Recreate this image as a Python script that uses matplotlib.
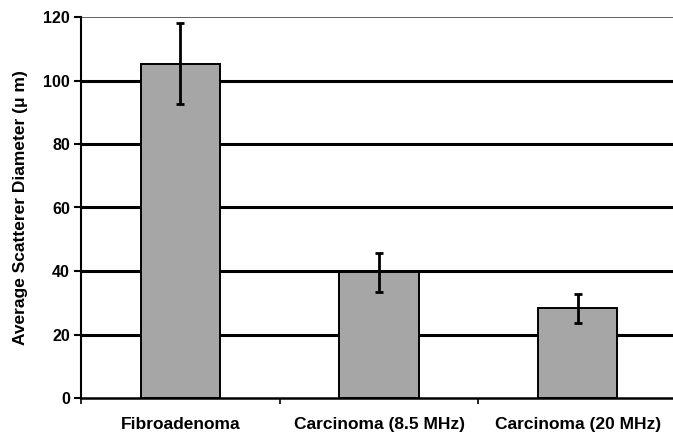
import numpy as np
import matplotlib
matplotlib.use("Agg")
from matplotlib import pyplot as plt

# valores medios e desvios
categories = ["Fibroadenoma", "Carcinoma (8.5 MHz)", "Carcinoma (20 MHz)"]
diameters = [105.3, 39.6, 28.2]
errors = [12.7, 6.2, 4.5]
yticks = [0, 20, 40, 60, 80, 100, 120]

plt.rcParams['font.family'] = ['Liberation Sans', 'DejaVu Sans']

fig = plt.figure(figsize=(6.73, 4.36), dpi=100)
ax = fig.add_axes([81/673, 38/436, 596/673, 381/436])

x = np.arange(len(categories))

# linhas de grade horizontais
for v in yticks[1:-1]:
    ax.axhline(v, color='black', lw=2.2, zorder=1)
ax.axhline(yticks[-1], color='#555555', lw=1.3, zorder=1)

ax.bar(x, diameters, width=0.40, color='#a6a6a6', edgecolor='black',
       linewidth=1.4, zorder=2)
ax.errorbar(x, diameters, yerr=errors, fmt='none', ecolor='black',
            elinewidth=2, capsize=3, capthick=2, zorder=3)

ax.set_xlim(-0.5, 2.5)
ax.set_ylim(0, 120)
ax.set_yticks(yticks)
ax.set_xticks([-0.5, 0.5, 1.5, 2.5])
ax.set_xticklabels([])
ax.set_xticks(x, minor=True)
ax.set_xticklabels(categories, minor=True, fontsize=12.5, fontweight='bold')
ax.tick_params(axis='x', which='minor', length=0, pad=14)
ax.tick_params(axis='x', which='major', length=4, width=1.2, direction='out')
ax.tick_params(axis='y', length=5, width=1.5, direction='out', pad=3,
               labelsize=11.5)
for lbl in ax.get_yticklabels():
    lbl.set_fontweight('bold')

for s in ['top', 'right']:
    ax.spines[s].set_visible(False)
ax.spines['left'].set_linewidth(1.5)
ax.spines['bottom'].set_linewidth(1.8)

ax.set_ylabel("Average Scatterer Diameter (\u03bc m)", fontsize=12.5,
              fontweight='bold', labelpad=11)

fig.savefig("out.png", dpi=100)
